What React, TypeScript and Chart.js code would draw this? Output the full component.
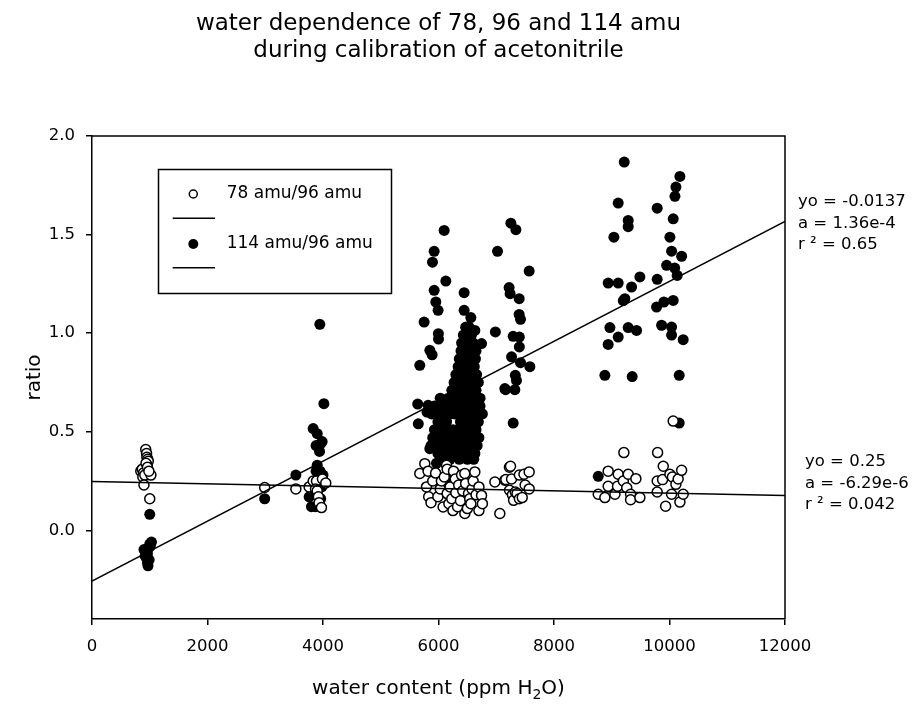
import React, { useEffect, useRef } from 'react';
import { Chart, registerables } from 'chart.js';

Chart.register(...registerables);

// ---------- data ----------
const titleLines = ['water dependence of 78, 96 and 114 amu', 'during calibration of acetonitrile'];
const xTickValues = [0, 2000, 4000, 6000, 8000, 10000, 12000];
const yTickValues = [0, 0.5, 1.0, 1.5, 2.0];
const seriesNames = ['78 amu/96 amu', '114 amu/96 amu'];

// 78 amu / 96 amu (open circles)
const open78Low = [
  [845, 0.30], [870, 0.31], [890, 0.29], [880, 0.27], [915, 0.28], [930, 0.41], [945, 0.39], [950, 0.37],
  [965, 0.36], [975, 0.35], [955, 0.33], [935, 0.34], [960, 0.32], [900, 0.23], [1020, 0.28], [1000, 0.16], [985, 0.30],
  [2990, 0.217], [3530, 0.21], [3760, 0.22], [3830, 0.25], [3887, 0.25], [3870, 0.21], [3900, 0.20], [3920, 0.17],
  [3932, 0.14], [3973, 0.115], [3990, 0.26], [4048, 0.24],
];
const open78Mid = [
  [5676, 0.288], [5763, 0.338], [5820, 0.30], [5792, 0.22], [5830, 0.17], [5870, 0.14], [5900, 0.25], [5950, 0.29],
  [5990, 0.17], [6030, 0.21], [6050, 0.25], [6080, 0.118], [6100, 0.27], [6139, 0.33], [6150, 0.31], [6150, 0.186],
  [6180, 0.135], [6200, 0.22], [6230, 0.16], [6250, 0.10], [6260, 0.30], [6290, 0.26], [6300, 0.19], [6330, 0.12],
  [6350, 0.23], [6380, 0.15], [6400, 0.28], [6420, 0.20], [6456, 0.288], [6456, 0.085], [6470, 0.237], [6500, 0.11],
  [6520, 0.186], [6540, 0.16], [6560, 0.135], [6580, 0.21], [6600, 0.25], [6629, 0.296], [6650, 0.18], [6700, 0.22],
  [6700, 0.10], [6745, 0.177], [6760, 0.135],
  [6976, 0.245], [7062, 0.085], [7149, 0.254], [7166, 0.257], [7228, 0.32], [7247, 0.325], [7230, 0.203], [7265, 0.26],
  [7280, 0.18], [7300, 0.152], [7330, 0.194], [7360, 0.186], [7400, 0.28], [7400, 0.16], [7450, 0.166], [7480, 0.284],
  [7500, 0.23], [7570, 0.296], [7570, 0.21],
];
const open78High = [
  [8766, 0.183], [8881, 0.166], [8938, 0.30], [8938, 0.223], [9055, 0.183], [9100, 0.223], [9112, 0.284], [9200, 0.25],
  [9210, 0.394], [9260, 0.216], [9285, 0.284], [9326, 0.183], [9326, 0.155], [9418, 0.262], [9487, 0.166], [9787, 0.25],
  [9787, 0.194], [9794, 0.394], [9880, 0.257], [9892, 0.325], [9933, 0.122], [10007, 0.284], [10036, 0.183], [10050, 0.27],
  [10064, 0.554], [10111, 0.233], [10150, 0.26], [10180, 0.143], [10210, 0.304], [10237, 0.183],
];

// 114 amu / 96 amu (filled circles)
const filled114Low = [
  [1000, 0.081], [1030, -0.06], [900, -0.098], [950, -0.11], [980, -0.09], [960, -0.12], [940, -0.14], [960, -0.165],
  [970, -0.18], [1000, -0.07], [920, -0.13], [990, -0.15], [1010, -0.08],
  [2990, 0.16], [3530, 0.28], [3945, 1.045], [4015, 0.642], [3830, 0.516], [3900, 0.49], [3960, 0.44], [3880, 0.43],
  [3940, 0.40], [3985, 0.45], [3760, 0.17], [3800, 0.12], [3870, 0.12], [3880, 0.30], [3950, 0.30], [4000, 0.28],
  [3920, 0.25], [3980, 0.22], [3900, 0.20], [4020, 0.24], [3960, 0.16], [3850, 0.19], [3900, 0.33],
];
const filled114Scatter = [
  [5650, 0.54], [5640, 0.64], [5820, 0.634], [5800, 0.60], [5850, 0.414], [5676, 0.837], [5850, 0.913], [5890, 0.89],
  [5751, 1.056], [5998, 0.997], [6000, 0.97], [5954, 1.158], [5993, 1.116], [5925, 1.217], [5896, 1.36], [5925, 1.415],
  [6098, 1.521], [6127, 1.264], [6444, 1.205], [6444, 1.116], [6560, 1.079], [6485, 1.031], [6745, 0.947], [6629, 1.014],
  [6985, 1.006], [7149, 0.719], [5965, 0.34], [6150, 0.27], [6180, 0.19],
  [7022, 1.415], [7253, 1.558], [7340, 1.525], [7570, 1.315], [7223, 1.231], [7240, 1.20], [7397, 1.175], [7397, 1.095],
  [7420, 1.07], [7293, 0.984], [7400, 0.98], [7400, 0.93], [7265, 0.88], [7420, 0.85], [7582, 0.83], [7330, 0.786],
  [7350, 0.76], [7161, 0.713], [7322, 0.713], [7293, 0.544],
];
const filled114Blob = [
  [6470, 1.03], [6530, 1.03],
  [6430, 0.99], [6500, 0.99], [6570, 0.99],
  [6400, 0.95], [6460, 0.95], [6530, 0.95], [6600, 0.95],
  [6390, 0.91], [6450, 0.91], [6510, 0.91], [6580, 0.91], [6650, 0.91],
  [6360, 0.87], [6430, 0.87], [6500, 0.87], [6570, 0.87], [6640, 0.87],
  [6340, 0.83], [6410, 0.83], [6480, 0.83], [6550, 0.83], [6620, 0.83],
  [6300, 0.79], [6370, 0.79], [6440, 0.79], [6510, 0.79], [6580, 0.79], [6660, 0.79],
  [6270, 0.75], [6340, 0.75], [6410, 0.75], [6480, 0.75], [6550, 0.75], [6620, 0.75], [6690, 0.75],
  [6230, 0.71], [6300, 0.71], [6370, 0.71], [6440, 0.71], [6510, 0.71], [6580, 0.71], [6650, 0.71],
  [6030, 0.67], [6170, 0.67], [6250, 0.67], [6330, 0.67], [6410, 0.67], [6490, 0.67], [6570, 0.67], [6650, 0.67], [6720, 0.67],
  [5930, 0.63], [6000, 0.63], [6080, 0.63], [6160, 0.63], [6240, 0.63], [6320, 0.63], [6400, 0.63], [6480, 0.63], [6560, 0.63], [6640, 0.63], [6720, 0.63],
  [5880, 0.59], [5960, 0.59], [6040, 0.59], [6120, 0.59], [6200, 0.59], [6280, 0.59], [6360, 0.59], [6440, 0.59], [6520, 0.59], [6600, 0.59], [6680, 0.59], [6760, 0.59],
  [5990, 0.55], [6070, 0.55], [6140, 0.55], [6380, 0.55], [6450, 0.55], [6530, 0.55], [6610, 0.55], [6690, 0.55],
  [5930, 0.51], [6010, 0.51], [6090, 0.51], [6170, 0.51], [6250, 0.51], [6330, 0.51], [6410, 0.51], [6490, 0.51], [6570, 0.51], [6650, 0.51],
  [5900, 0.47], [5980, 0.47], [6060, 0.47], [6140, 0.47], [6220, 0.47], [6300, 0.47], [6380, 0.47], [6460, 0.47], [6540, 0.47], [6620, 0.47], [6700, 0.47],
  [5870, 0.43], [5950, 0.43], [6030, 0.43], [6110, 0.43], [6190, 0.43], [6270, 0.43], [6350, 0.43], [6430, 0.43], [6510, 0.43], [6590, 0.43], [6670, 0.43],
  [5990, 0.39], [6070, 0.39], [6150, 0.39], [6230, 0.39], [6310, 0.39], [6390, 0.39], [6470, 0.39], [6550, 0.39], [6630, 0.39],
  [6040, 0.36], [6200, 0.36], [6360, 0.36], [6500, 0.36], [6610, 0.36],
];
const filled114High = [
  [8766, 0.274], [8881, 0.786], [8938, 0.943], [8938, 1.254], [8968, 1.028], [9037, 1.487], [9112, 1.66], [9112, 1.254],
  [9112, 0.98], [9216, 1.868], [9227, 1.175], [9200, 1.165], [9285, 1.572], [9285, 1.54], [9285, 1.028], [9343, 1.234],
  [9354, 0.78], [9430, 1.014], [9487, 1.285], [9776, 1.132], [9787, 1.273], [9787, 1.634], [9863, 1.04], [9903, 1.158],
  [9950, 1.344], [10007, 1.487], [10036, 1.416], [10036, 1.031], [10036, 0.99], [10064, 1.58], [10064, 1.166], [10090, 1.33],
  [10094, 1.694], [10111, 1.741], [10133, 1.293], [10168, 0.786], [10168, 0.544], [10180, 1.795], [10210, 1.39], [10237, 0.967],
];

// regression lines (as drawn across the axis range)
const fitX = [0, 12000];
const fit78Y = [0.248, 0.176];
const fit114Y = [-0.258, 1.567];

const fit78Text = ['yo = 0.25', 'a = -6.29e-6', 'r \u00B2 = 0.042'];
const fit114Text = ['yo = -0.0137', 'a = 1.36e-4', 'r \u00B2 = 0.65'];

const FONT = '"DejaVu Sans", "Liberation Sans", Arial, sans-serif';

const toPts = (arr: number[][]) => arr.map(([x, y]) => ({ x, y }));

const overlayPlugin = {
  id: 'overlay',
  afterDatasetsDraw(chart: any) {
    const { ctx, chartArea } = chart;
    ctx.save();
    ctx.strokeStyle = '#000';
    ctx.lineWidth = 1.5;
    ctx.beginPath();
    ctx.moveTo(chartArea.left, chartArea.top);
    ctx.lineTo(chartArea.right, chartArea.top);
    ctx.lineTo(chartArea.right, chartArea.bottom);
    ctx.stroke();
    ctx.restore();
  },
  afterDraw(chart: any) {
    const { ctx, chartArea } = chart;
    const cx = (chartArea.left + chartArea.right) / 2;
    ctx.save();
    ctx.fillStyle = '#000';
    ctx.strokeStyle = '#000';

    // title
    ctx.font = `23px ${FONT}`;
    ctx.textAlign = 'center';
    ctx.textBaseline = 'alphabetic';
    ctx.fillText(titleLines[0], cx, 30);
    ctx.fillText(titleLines[1], cx, 57);

    // x axis title with subscript
    const a = 'water content (ppm H';
    const b = '2';
    const c = 'O)';
    ctx.font = `20px ${FONT}`;
    const wa = ctx.measureText(a).width;
    const wc = ctx.measureText(c).width;
    ctx.font = `14px ${FONT}`;
    const wb = ctx.measureText(b).width;
    const x0 = cx - (wa + wb + wc) / 2;
    ctx.textAlign = 'left';
    ctx.font = `20px ${FONT}`;
    ctx.fillText(a, x0, 694);
    ctx.font = `14px ${FONT}`;
    ctx.fillText(b, x0 + wa, 699);
    ctx.font = `20px ${FONT}`;
    ctx.fillText(c, x0 + wa + wb, 694);

    // y axis title
    ctx.save();
    ctx.translate(35, (chartArea.top + chartArea.bottom) / 2);
    ctx.rotate(-Math.PI / 2);
    ctx.textAlign = 'center';
    ctx.textBaseline = 'middle';
    ctx.font = `20px ${FONT}`;
    ctx.fillText('ratio', 0, 0);
    ctx.restore();

    // legend
    ctx.lineWidth = 1.5;
    ctx.strokeRect(158.5, 169.5, 233, 124);
    ctx.beginPath();
    ctx.arc(193.3, 194, 4, 0, Math.PI * 2);
    ctx.fillStyle = '#fff';
    ctx.fill();
    ctx.stroke();
    ctx.fillStyle = '#000';
    ctx.beginPath();
    ctx.arc(193.3, 244, 5, 0, Math.PI * 2);
    ctx.fill();
    ctx.beginPath();
    ctx.moveTo(172.7, 218.3);
    ctx.lineTo(215, 218.3);
    ctx.moveTo(172.7, 267.7);
    ctx.lineTo(215, 267.7);
    ctx.stroke();
    ctx.font = `17px ${FONT}`;
    ctx.textAlign = 'left';
    ctx.textBaseline = 'middle';
    ctx.fillText(seriesNames[0], 226.7, 194);
    ctx.fillText(seriesNames[1], 226.7, 244);

    // fit annotations
    ctx.font = `16.5px ${FONT}`;
    fit114Text.forEach((t, i) => ctx.fillText(t, 798, 201.7 + i * 21.7));
    fit78Text.forEach((t, i) => ctx.fillText(t, 805, 461.7 + i * 21.7));
    ctx.restore();
  },
};

export default function App() {
  const ref = useRef<HTMLCanvasElement | null>(null);

  useEffect(() => {
    if (!ref.current) return;
    const chart = new Chart(ref.current, {
      type: 'scatter',
      data: {
        datasets: [
          {
            type: 'line',
            label: 'fit 78',
            data: fitX.map((x, i) => ({ x, y: fit78Y[i] })),
            borderColor: '#000',
            borderWidth: 1.5,
            pointRadius: 0,
            fill: false,
            order: 0,
          } as any,
          {
            type: 'line',
            label: 'fit 114',
            data: fitX.map((x, i) => ({ x, y: fit114Y[i] })),
            borderColor: '#000',
            borderWidth: 1.5,
            pointRadius: 0,
            fill: false,
            order: 0,
          } as any,
          {
            label: seriesNames[0],
            data: toPts([...open78Low, ...open78Mid, ...open78High]),
            pointRadius: 5,
            pointBackgroundColor: '#fff',
            pointBorderColor: '#000',
            pointBorderWidth: 1.5,
            order: 1,
          },
          {
            label: seriesNames[1],
            data: toPts([...filled114Low, ...filled114Scatter, ...filled114Blob, ...filled114High]),
            pointRadius: 5.5,
            pointBackgroundColor: '#000',
            pointBorderColor: '#000',
            pointBorderWidth: 0,
            order: 2,
          },
        ],
      },
      options: {
        animation: false,
        responsive: false,
        layout: { padding: { top: 136, right: 129, left: 0, bottom: 0 } },
        plugins: { legend: { display: false }, tooltip: { enabled: false }, title: { display: false } },
        scales: {
          x: {
            type: 'linear',
            min: 0,
            max: 12000,
            afterBuildTicks: (s: any) => { s.ticks = xTickValues.map((v) => ({ value: v })); },
            afterFit: (s: any) => { s.height = 85; },
            ticks: {
              color: '#000',
              font: { family: FONT, size: 16.5 },
              padding: 12,
              maxRotation: 0,
              callback: (v: any) => String(v),
            },
            grid: { drawOnChartArea: false, color: '#000', lineWidth: 1.5, tickLength: 6 },
            border: { display: true, color: '#000', width: 1.5 },
          },
          y: {
            type: 'linear',
            min: -0.45,
            max: 2.0,
            afterBuildTicks: (s: any) => { s.ticks = yTickValues.map((v) => ({ value: v })); },
            afterFit: (s: any) => { s.width = 92; },
            ticks: {
              color: '#000',
              font: { family: FONT, size: 16.5 },
              padding: 11,
              callback: (v: any) => Number(v).toFixed(1),
            },
            grid: { drawOnChartArea: false, color: '#000', lineWidth: 1.5, tickLength: 6 },
            border: { display: true, color: '#000', width: 1.5 },
          },
        },
      },
      plugins: [overlayPlugin],
    });
    return () => chart.destroy();
  }, []);

  return (
    <div style={{ position: 'absolute', left: 0, top: 0, width: 914, height: 704, background: '#fff' }}>
      <canvas ref={ref} width={914} height={704} style={{ display: 'block', width: 914, height: 704 }} />
    </div>
  );
}
